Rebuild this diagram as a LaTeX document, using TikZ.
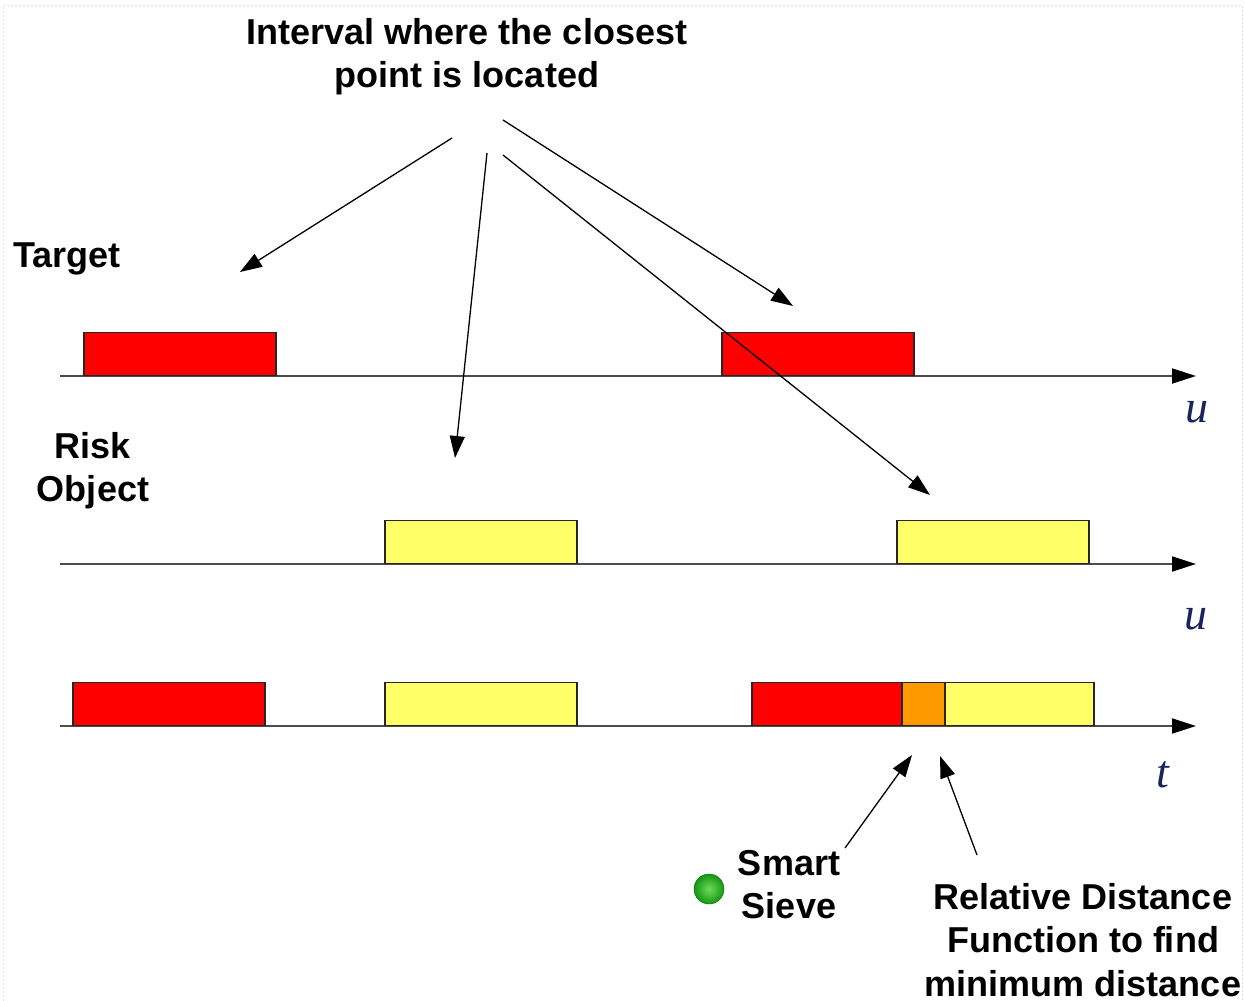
\documentclass[tikz,border=0pt]{standalone}
\usepackage{fontspec}
\setmainfont{Liberation Sans}
\newfontfamily\varfont{Liberation Serif}
\usetikzlibrary{arrows.meta}

\definecolor{segred}{RGB}{255,0,0}
\definecolor{segyellow}{RGB}{255,255,102}
\definecolor{segorange}{RGB}{255,153,0}
\definecolor{varblue}{RGB}{25,35,95}
\definecolor{dotlight}{RGB}{110,220,90}
\definecolor{dotdark}{RGB}{20,150,20}

\begin{document}
\begin{tikzpicture}[x=1pt,y=-1pt,
  lbl/.style={font=\fontsize{36}{43.5}\selectfont\bfseries, inner sep=0pt, align=center, text=black},
  axisvar/.style={font=\fontsize{46}{50}\selectfont\varfont\itshape, text=varblue, inner sep=0pt},
  seg/.style={draw=black!85, line width=1.5pt, minimum height=43pt, minimum width=192pt,
              inner sep=0pt, anchor=south west},
  axisline/.style={draw=black!70, line width=1.8pt, -{Triangle[length=24pt,width=15pt,black]}},
  pointer/.style={draw=black, line width=1.3pt, -{Triangle[length=22pt,width=15pt]}}]

\useasboundingbox (0,0) rectangle (1245,1001);

% faint frame of the slide
\draw[black!12, line width=1pt, dash pattern=on 2pt off 2pt] (3,1001) -- (3,5) -- (1242,5) -- (1242,1001);

% time / parameter axes
\coordinate (a1s) at (60,376);  \coordinate (a1e) at (1196,376);
\coordinate (a2s) at (60,564);  \coordinate (a2e) at (1196,564);
\coordinate (a3s) at (60,726);  \coordinate (a3e) at (1196,726);
\draw[axisline] (a1s) -- (a1e);
\draw[axisline] (a2s) -- (a2e);
\draw[axisline] (a3s) -- (a3e);

\node[axisvar] (u1) at (1197,412) {u};
\node[axisvar] (u2) at (1196,619) {u};
\node[axisvar] (tv) at (1163,775) {t};

% target intervals
\node[seg, fill=segred] (t1) at (83,376) {};
\node[seg, fill=segred] (t2) at (721,376) {};
% risk object intervals
\node[seg, fill=segyellow] (r1) at (384,564) {};
\node[seg, fill=segyellow] (r2) at (896,564) {};
% combined time line
\node[seg, fill=segred] (c1) at (72,726) {};
\node[seg, fill=segyellow] (c2) at (384,726) {};
\node[seg, fill=segred, minimum width=150pt] (c3) at (751,726) {};
\node[seg, fill=segorange, minimum width=43pt] (c4) at (901,726) {};
\node[seg, fill=segyellow, minimum width=149pt] (c5) at (944,726) {};

% labels
\node[lbl, anchor=north] (title) at (467,18) {Interval where the closest\\point is located};
\node[lbl, anchor=base west] (target) at (13,267) {Target};
\node[lbl, anchor=north] (risk) at (93,432) {Risk\\Object};
\node[lbl, anchor=north] (sieve) at (789,850) {Smart\\Sieve};
\node[lbl, anchor=north] (rdf) at (1083,883) {Relative Distance\\Function to find\\minimum distance};

% smart sieve marker
\node[circle, minimum size=30pt, inner sep=0pt, draw=dotdark!80!black, line width=0.5pt,
      inner color=dotlight, outer color=dotdark] (dot) at (709,889) {};

% pointers from the title
\coordinate (p1s) at (452,138); \coordinate (p1e) at (240,272);
\coordinate (p2s) at (487,153); \coordinate (p2e) at (455,458);
\coordinate (p3s) at (503,155); \coordinate (p3e) at (930,495);
\coordinate (p4s) at (503,120); \coordinate (p4e) at (793,306);
\draw[pointer] (p1s) -- (p1e);
\draw[pointer] (p2s) -- (p2e);
\draw[pointer] (p3s) -- (p3e);
\draw[pointer] (p4s) -- (p4e);

% pointers to the overlap
\coordinate (s1s) at (845,848); \coordinate (s1e) at (912,755);
\coordinate (s2s) at (977,855); \coordinate (s2e) at (940,756);
\draw[pointer] (s1s) -- (s1e);
\draw[pointer] (s2s) -- (s2e);
\end{tikzpicture}
\end{document}
